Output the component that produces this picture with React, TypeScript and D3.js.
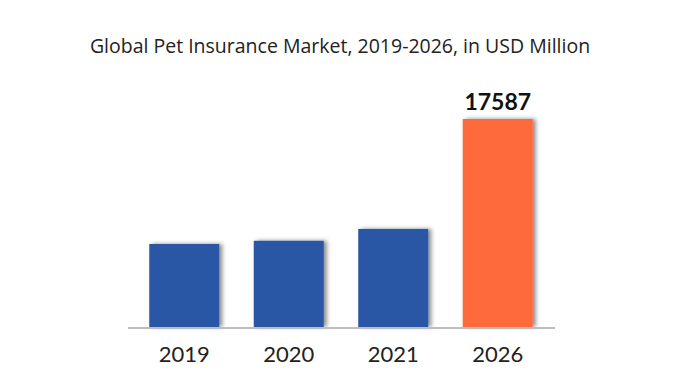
import React from "react";
import * as d3 from "d3";

const categories = ["2019", "2020", "2021", "2026"];
const values = [7020, 7290, 8290, 17587];
const colors = ["#2B57A6", "#2B57A6", "#2B57A6", "#FF6A3D"];
const labeled = [false, false, false, true];

const W = 680;
const H = 383;
const baseY = 327;
const topY = 119;

export default function App() {
  const x = d3
    .scaleBand<string>()
    .domain(categories)
    .range([128, 554])
    .paddingInner(0.33)
    .paddingOuter(0.2035);
  const y = d3.scaleLinear().domain([0, 17587]).range([baseY, topY]);

  return (
    <svg
      width={W}
      height={H}
      style={{ position: "absolute", left: 0, top: 0, background: "#fff" }}
      fontFamily="Lato, 'Open Sans', sans-serif"
    >
      <defs>
        <filter id="sh" x="-20%" y="-10%" width="150%" height="120%">
          <feDropShadow dx="3" dy="0" stdDeviation="2" floodColor="#000" floodOpacity="0.45" />
        </filter>
      </defs>
      <rect width={W} height={H} fill="#fff" />
      <text
        x={340}
        y={53}
        textAnchor="middle"
        fontSize={19.5}
        fill="#222"
        fontFamily="'Open Sans', sans-serif"
      >
        Global Pet Insurance Market, 2019-2026, in USD Million
      </text>
      {categories.map((c, i) => (
        <g key={c}>
          <rect
            x={x(c)}
            y={y(values[i])}
            width={x.bandwidth()}
            height={baseY - y(values[i])}
            fill={colors[i]}
            filter="url(#sh)"
          />
          <text
            x={(x(c) as number) + x.bandwidth() / 2}
            y={362}
            textAnchor="middle"
            fontSize={22}
            fill="#222"
          >
            {c}
          </text>
          {labeled[i] && (
            <text
              x={(x(c) as number) + x.bandwidth() / 2}
              y={y(values[i]) - 9}
              textAnchor="middle"
              fontSize={23}
              fontWeight="bold"
              fill="#111"
            >
              {values[i]}
            </text>
          )}
        </g>
      ))}
      <line x1={128} x2={555} y1={baseY + 1} y2={baseY + 1} stroke="#bdbdbd" strokeWidth={2} />
    </svg>
  );
}
